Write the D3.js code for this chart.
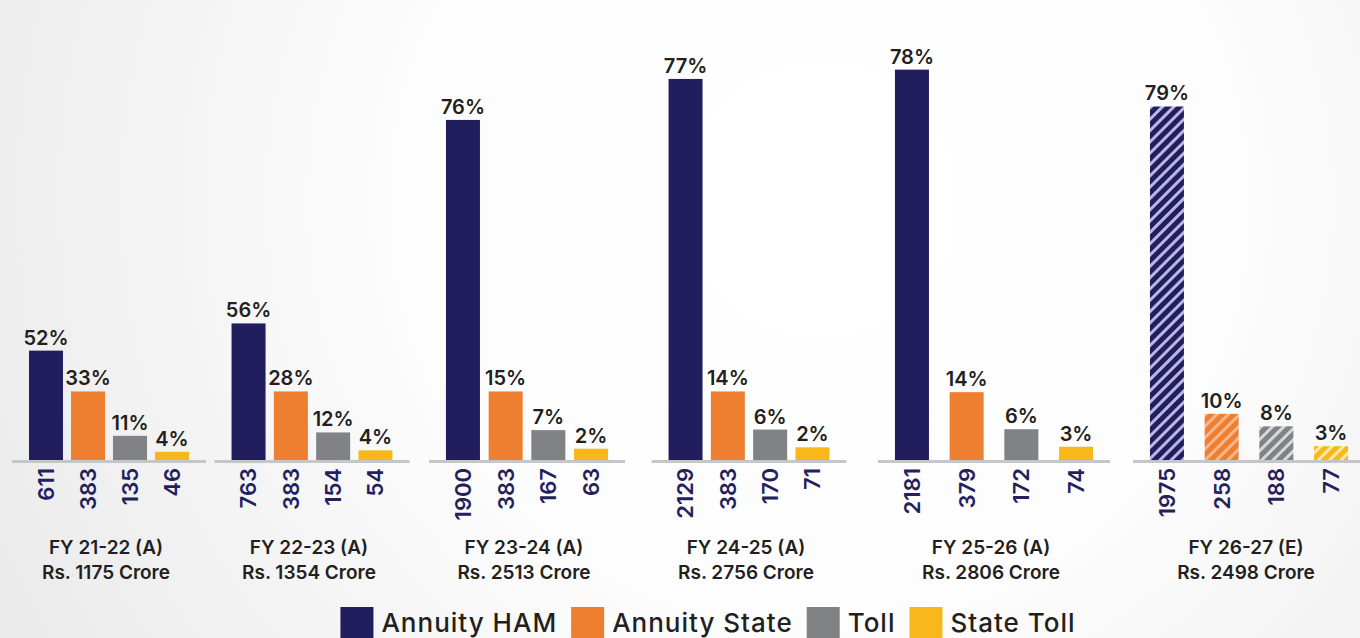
<!DOCTYPE html>
<html>
<head>
<meta charset="utf-8">
<script src="https://cdn.jsdelivr.net/npm/d3@7"></script>
<style>
  html, body { margin: 0; padding: 0; background: #fff; }
  svg { display: block; }
  text { font-family: Inter, "Open Sans", Lato, sans-serif; }
</style>
</head>
<body>
<svg id="chart" width="1360" height="638"></svg>
<script>
// ---------------- DATA ----------------
const years = ["FY 21-22 (A)", "FY 22-23 (A)", "FY 23-24 (A)", "FY 24-25 (A)", "FY 25-26 (A)", "FY 26-27 (E)"];
const totals = ["Rs. 1175 Crore", "Rs. 1354 Crore", "Rs. 2513 Crore", "Rs. 2756 Crore", "Rs. 2806 Crore", "Rs. 2498 Crore"];
const series = ["Annuity HAM", "Annuity State", "Toll", "State Toll"];
const annuityHAM = [611, 763, 1900, 2129, 2181, 1975];
const annuityState = [383, 383, 383, 383, 379, 258];
const toll = [135, 154, 167, 170, 172, 188];
const stateToll = [46, 54, 63, 71, 74, 77];
const pctHAM = ["52%", "56%", "76%", "77%", "78%", "79%"];
const pctAnnuityState = ["33%", "28%", "15%", "14%", "14%", "10%"];
const pctToll = ["11%", "12%", "7%", "6%", "6%", "8%"];
const pctStateToll = ["4%", "4%", "2%", "2%", "3%", "3%"];
const estimated = [false, false, false, false, false, true];

// ---------------- LAYOUT / STYLE ----------------
const W = 1360, H = 638;
const colors = ["#221d5c", "#ee7f30", "#808285", "#f8b71b"];
const hatchColors = ["#bab8e2", "#f9b68c", "#d8d8d8", "#fdeaa8"];
const groupCenters = [109, 312, 527, 749, 994, 1249];   // x-scale range
const groupSteps = [42, 42.3, 42.7, 42.3, 54.7, 54.7];   // inner spacing per group
const barW = 34;
const baseY = 460;

const values = [annuityHAM, annuityState, toll, stateToll];
const pcts = [pctHAM, pctAnnuityState, pctToll, pctStateToll];

const rows = [];
years.forEach((yr, gi) => {
  series.forEach((s, si) => {
    rows.push({ year: yr, gi, series: s, si, value: values[si][gi], pct: pcts[si][gi], est: estimated[gi] });
  });
});

const svg = d3.select("#chart");
const defs = svg.append("defs");

// background soft gradient
const bg = defs.append("radialGradient").attr("id", "bg")
  .attr("gradientUnits", "userSpaceOnUse")
  .attr("cx", 820).attr("cy", 200).attr("r", 900);
bg.append("stop").attr("offset", "0%").attr("stop-color", "#ffffff");
bg.append("stop").attr("offset", "45%").attr("stop-color", "#fdfdfd");
bg.append("stop").attr("offset", "100%").attr("stop-color", "#ebebeb");
svg.append("rect").attr("width", W).attr("height", H).attr("fill", "url(#bg)");

// hatch patterns
series.forEach((s, si) => {
  const p = defs.append("pattern").attr("id", "hatch" + si)
    .attr("patternUnits", "userSpaceOnUse").attr("width", 8).attr("height", 8)
    .attr("patternTransform", "rotate(45)");
  p.append("rect").attr("width", 8).attr("height", 8).attr("fill", colors[si]);
  p.append("rect").attr("x", 0).attr("width", 3).attr("height", 8).attr("fill", hatchColors[si]);
});

// scales
const x = d3.scaleOrdinal().domain(years).range(groupCenters);
const stepOf = d3.scaleOrdinal().domain(years).range(groupSteps);
const inner = (yr) => d3.scalePoint().domain(series).range([-1.5 * stepOf(yr), 1.5 * stepOf(yr)]);
const y = d3.scaleLinear().domain([0, 2570]).range([baseY, 0]);

const barCx = d => x(d.year) + inner(d.year)(d.series);

// baselines per group
const gLines = svg.append("g");
years.forEach(yr => {
  const half = 1.5 * stepOf(yr) + barW / 2 + 17;
  gLines.append("rect")
    .attr("x", x(yr) - half).attr("y", baseY)
    .attr("width", 2 * half).attr("height", 3)
    .attr("fill", "#c5c6c9");
});

// bars
svg.append("g").selectAll("rect").data(rows).join("rect")
  .attr("x", d => barCx(d) - barW / 2)
  .attr("y", d => y(d.value))
  .attr("width", barW)
  .attr("height", d => y(0) - y(d.value))
  .attr("fill", d => d.est ? `url(#hatch${d.si})` : colors[d.si]);

// percentage labels
svg.append("g").selectAll("text").data(rows).join("text")
  .attr("x", d => barCx(d))
  .attr("y", d => y(d.value) - 6)
  .attr("text-anchor", "middle")
  .attr("font-size", 20).attr("font-weight", 600)
  .attr("fill", "#231f20")
  .text(d => d.pct);

// value labels (rotated)
svg.append("g").selectAll("text").data(rows).join("text")
  .attr("transform", d => `translate(${barCx(d)},${baseY + 8}) rotate(-90)`)
  .attr("text-anchor", "end")
  .attr("dy", "0.36em")
  .attr("font-size", 22).attr("font-weight", 600)
  .attr("fill", "#251f60")
  .text(d => d.value);

// group labels
const gl = svg.append("g").selectAll("g").data(years).join("g");
gl.append("text")
  .attr("x", (d) => x(d) - 3).attr("y", 554)
  .attr("text-anchor", "middle").attr("font-size", 19).attr("font-weight", 600)
  .attr("fill", "#231f20").text(d => d);
gl.append("text")
  .attr("x", (d) => x(d) - 3).attr("y", 579)
  .attr("text-anchor", "middle").attr("font-size", 19).attr("font-weight", 600)
  .attr("fill", "#231f20").text((d, i) => totals[i]);

// legend
const lg = svg.append("g");
let lx = 0;
series.forEach((s, si) => {
  const g = lg.append("g").attr("transform", `translate(${lx},0)`);
  g.append("rect").attr("x", 0).attr("y", 607).attr("width", 33).attr("height", 31).attr("fill", colors[si]);
  const t = g.append("text").attr("x", 41).attr("y", 632)
    .attr("font-size", 26).attr("font-weight", 500).attr("letter-spacing", 1)
    .attr("fill", "#231f20").text(s);
  const tw = t.node().getComputedTextLength();
  lx += 41 + tw + 14;
});
const totalW = lx - 14;
lg.attr("transform", `translate(${708 - totalW / 2},0)`);
</script>
</body>
</html>
